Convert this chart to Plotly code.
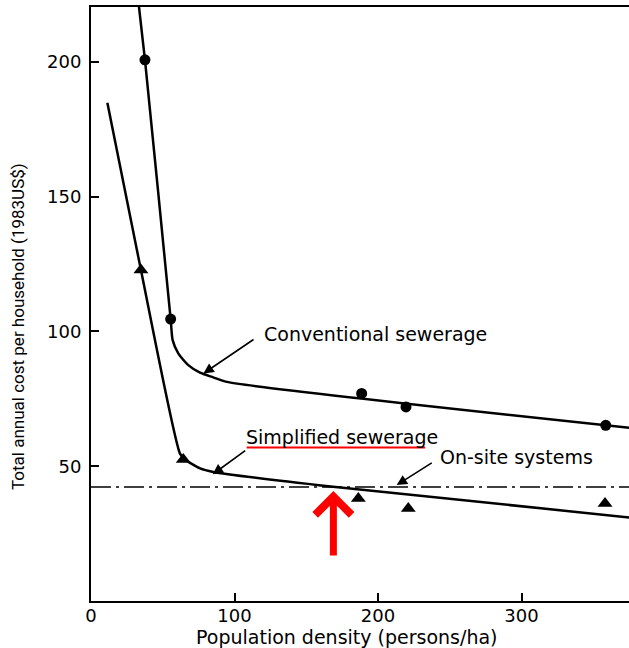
import plotly.graph_objects as go

# ---- data ----
conv_x = [37.6, 55.5, 188.6, 219.5, 358.7]
conv_y = [200.8, 104.6, 77.0, 72.0, 65.2]
simp_x = [34.8, 64.3, 186.3, 221.1, 358.2]
simp_y = [122.8, 52.5, 38.0, 34.3, 36.2]

conv_curve_x = [33.0, 37.6, 55.5, 56.9, 60.8, 67.8, 76.0, 85.2, 94.6, 375.0]
conv_curve_y = [222.5, 200.8, 104.6, 96.8, 91.9, 87.5, 84.7, 83.0, 81.3, 64.3]
simp_curve_x = [11.4, 34.8, 62.0, 65.5, 76.0, 85.2, 167.0, 375.0]
simp_curve_y = [184.9, 122.8, 54.7, 52.5, 49.2, 47.9, 42.5, 31.0]

onsite_x = [0, 375]
onsite_y = [42.3, 42.3]

underline_x = [108.5, 232.8]
underline_y = [57.0, 57.0]

x_ticks = [0, 100, 200, 300]
y_ticks = [50, 100, 150, 200]

labels = ["Conventional sewerage", "Simplified sewerage", "On-site systems"]
label_pos = [(118.9, 98.9), (106.8, 60.9), (242.0, 53.5)]
arrow_tips = [(78.3, 84.4), (84.8, 47.0), (213.0, 43.0)]
arrow_tails = [(114.3, 97.4), (108.5, 56.2), (238.5, 51.6)]

red_tip = (168.9, 40.8)
red_tail = (168.9, 16.3)

WIDE = "DejaVu Sans, Verdana, sans-serif"
NARROW = "Liberation Sans Narrow, Arial Narrow, Roboto, sans-serif"

W, H = 629, 648
ML, MT, MB = 91, 7, 47
PH = H - MT - MB


def px(page_x):
    return (page_x - ML) / (W - ML)


def py(page_y):
    return (H - MB - page_y) / PH


fig = go.Figure()

fig.add_trace(go.Scatter(x=onsite_x, y=onsite_y, mode="lines",
                         line=dict(color="black", width=1.5, dash="20px,5px,3px,5px")))
fig.add_trace(go.Scatter(x=conv_curve_x, y=conv_curve_y, mode="lines",
                         line=dict(color="black", width=2.5, shape="spline", smoothing=0.6)))
fig.add_trace(go.Scatter(x=simp_curve_x, y=simp_curve_y, mode="lines",
                         line=dict(color="black", width=2.5, shape="spline", smoothing=0.6)))
fig.add_trace(go.Scatter(x=conv_x, y=conv_y, mode="markers",
                         marker=dict(symbol="circle", size=11, color="black")))
fig.add_trace(go.Scatter(x=simp_x, y=simp_y, mode="markers",
                         marker=dict(symbol="triangle-up", size=13, color="black")))
fig.add_trace(go.Scatter(x=underline_x, y=underline_y, mode="lines",
                         line=dict(color="red", width=2)))

annotations = []
for txt, (tx, ty) in zip(labels, label_pos):
    annotations.append(dict(x=tx, y=ty, xref="x", yref="y", text=txt, showarrow=False,
                            xanchor="left", yanchor="middle",
                            font=dict(family=WIDE, size=19, color="black")))
for (hx, hy), (tx, ty) in zip(arrow_tips, arrow_tails):
    annotations.append(dict(x=hx, y=hy, ax=tx, ay=ty, xref="x", yref="y",
                            axref="x", ayref="y", text="", showarrow=True,
                            arrowhead=2, arrowsize=1.3, arrowwidth=1.6, arrowcolor="black"))
annotations.append(dict(x=red_tip[0], y=red_tip[1], ax=red_tail[0], ay=red_tail[1],
                        xref="x", yref="y", axref="x", ayref="y", text="", showarrow=True,
                        arrowhead=4, arrowsize=1.0, arrowwidth=7, arrowcolor="red"))
# axis titles
annotations.append(dict(x=px(347), y=py(637), xref="paper", yref="paper",
                        text="Population density (persons/ha)", showarrow=False,
                        xanchor="center", yanchor="middle",
                        font=dict(family=WIDE, size=19, color="black")))
annotations.append(dict(x=px(18), y=py(327), xref="paper", yref="paper",
                        text="Total annual cost per household (1983US$)", showarrow=False,
                        textangle=-90, xanchor="center", yanchor="middle",
                        font=dict(family=NARROW, size=17, color="black")))

fig.update_layout(
    width=W, height=H,
    margin=dict(l=ML, r=0, t=MT, b=MB, pad=0),
    paper_bgcolor="white", plot_bgcolor="white",
    showlegend=False,
    hovermode=False,
    annotations=annotations,
    xaxis=dict(range=[0, 374.9], tickvals=x_ticks, ticks="inside", ticklen=8, tickwidth=2,
               tickcolor="black", showline=True, linecolor="black", linewidth=2, mirror=True,
               showgrid=False, zeroline=False, automargin=False, ticklabelstandoff=-3,
               tickfont=dict(family=WIDE, size=18, color="black")),
    yaxis=dict(range=[0, 220.4], tickvals=y_ticks, ticks="inside", ticklen=8, tickwidth=2,
               tickcolor="black", showline=True, linecolor="black", linewidth=2, mirror=False,
               showgrid=False, zeroline=False, ticklabelstandoff=4, automargin=False,
               tickfont=dict(family=WIDE, size=18, color="black")),
)

fig.write_html(
    "out.html",
    config={"displayModeBar": False},
    post_script="document.body.style.margin='0';"
                "document.documentElement.style.overflow='hidden';"
                "document.body.style.overflow='hidden';",
)
